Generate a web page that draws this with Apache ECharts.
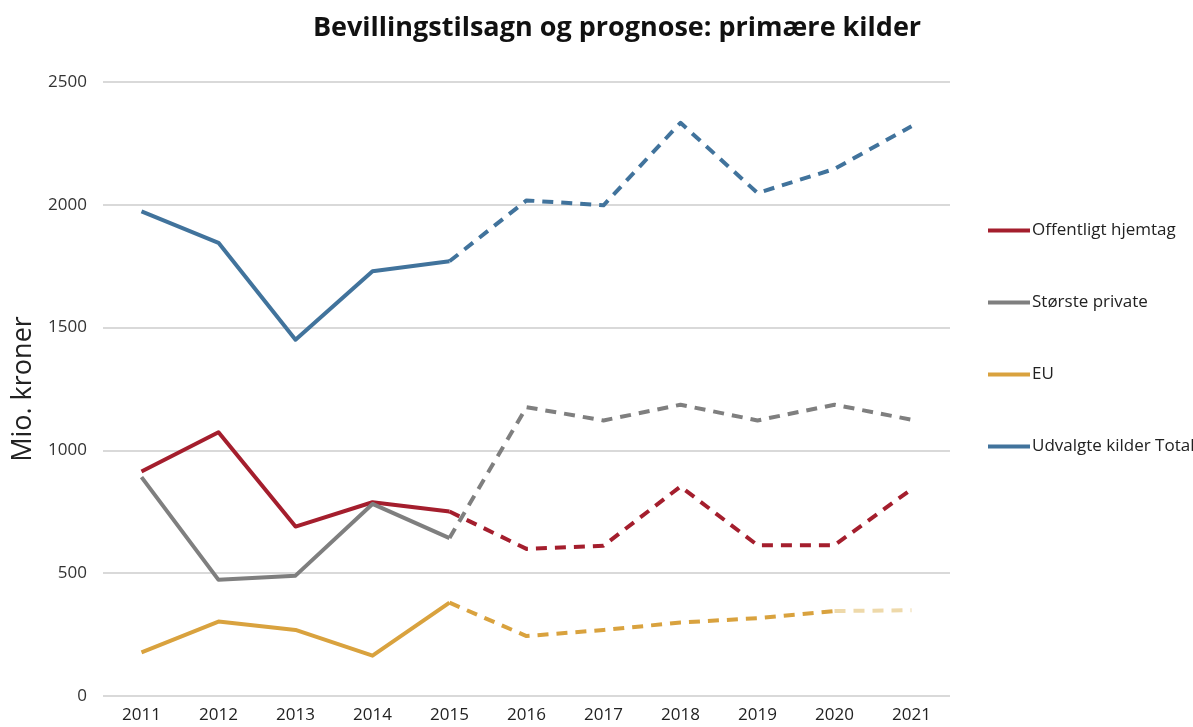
<!DOCTYPE html>
<html>
<head>
<meta charset="utf-8">
<script src="https://cdn.jsdelivr.net/npm/echarts@6/dist/echarts.min.js"></script>
<style>
    html, body {margin: 0; padding: 0; background: #fff;}
    #chart {width: 1193px; height: 727px;}
</style>
</head>
<body>
<div id="chart"></div>
<script>
var years = ['2011', '2012', '2013', '2014', '2015', '2016', '2017', '2018', '2019', '2020', '2021'];
var offentligt = [914, 1074, 690, 789, 751, 599, 612, 853, 614, 614, 842];
var private_ = [891, 473, 490, 782, 643, 1176, 1122, 1186, 1122, 1186, 1125];
var eu = [178, 303, 269, 164, 380, 244, 269, 299, 317, 346, 349];
var total = [1973, 1845, 1451, 1729, 1770, 2018, 1998, 2334, 2048, 2146, 2320];
var yTicks = [0, 500, 1000, 1500, 2000, 2500];

var navne = ['Offentligt hjemtag', 'Største private', 'EU', 'Udvalgte kilder Total'];
var farver = ['#a41e2d', '#7f7f7f', '#d9a23e', '#41739c'];

// keep only points from index 'from' to 'to', rest null
function cut(arr, from, to) {
    var out = [];
    for (var i = 0; i < arr.length; i++) {
        out.push(i >= from && i <= to ? arr[i] : null);
    }
    return out;
}

function line(name, data, color, dashed) {
    return {
        name: name,
        type: 'line',
        data: data,
        symbol: 'none',
        silent: true,
        z: 3,
        lineStyle: {
            color: color,
            width: 4,
            type: dashed ? [11, 8] : 'solid',
            cap: 'butt',
            join: 'round'
        },
        itemStyle: {color: color}
    };
}

var series = [];
var alle = [offentligt, private_, eu, total];
for (var s = 0; s < alle.length; s++) {
    series.push(line(navne[s], cut(alle[s], 0, 4), farver[s], false));
    if (s == 2) {
        // EU: last stretch drawn in a pale tone
        series.push(line(navne[s], cut(alle[s], 4, 9), farver[s], true));
        series.push(line(navne[s], cut(alle[s], 9, 10), '#eed9aa', true));
    } else {
        series.push(line(navne[s], cut(alle[s], 4, 10), farver[s], true));
    }
}

var option = {
    animation: false,
    backgroundColor: '#fff',
    title: {
        text: 'Bevillingstilsagn og prognose: primære kilder',
        left: 612,
        textAlign: 'center',
        top: 10,
        textStyle: {
            fontFamily: 'Open Sans',
            fontSize: 27,
            fontWeight: 'bold',
            color: '#111'
        }
    },
    legend: {
        data: navne,
        orient: 'vertical',
        left: 983,
        top: 217,
        icon: 'rect',
        itemWidth: 42,
        itemHeight: 4,
        itemGap: 55,
        textStyle: {
            fontFamily: 'Open Sans',
            fontSize: 17,
            color: '#222',
            padding: [0, 0, 0, -3]
        },
        selectedMode: false
    },
    grid: {
        left: 103,
        right: 243,
        top: 82,
        bottom: 31,
        outerBoundsMode: 'none'
    },
    xAxis: {
        type: 'category',
        data: years,
        boundaryGap: true,
        axisLine: {show: false},
        axisTick: {show: false},
        axisLabel: {
            fontFamily: 'Open Sans',
            fontSize: 17,
            color: '#222',
            margin: 11
        }
    },
    yAxis: {
        type: 'value',
        min: yTicks[0],
        max: yTicks[yTicks.length - 1],
        interval: 500,
        name: 'Mio. kroner',
        nameLocation: 'middle',
        nameGap: 66,
        nameTextStyle: {
            fontFamily: 'Open Sans',
            fontSize: 27,
            color: '#222'
        },
        axisLine: {show: false},
        axisTick: {show: false},
        axisLabel: {
            fontFamily: 'Open Sans',
            fontSize: 17,
            color: '#333',
            margin: 16,
            formatter: function (v) {
                return String(v);
            }
        },
        splitLine: {
            lineStyle: {color: '#d9d9d9', width: 2}
        }
    },
    series: series
};

var myChart = echarts.init(document.getElementById('chart'));
myChart.setOption(option, true);
</script>
</body>
</html>
